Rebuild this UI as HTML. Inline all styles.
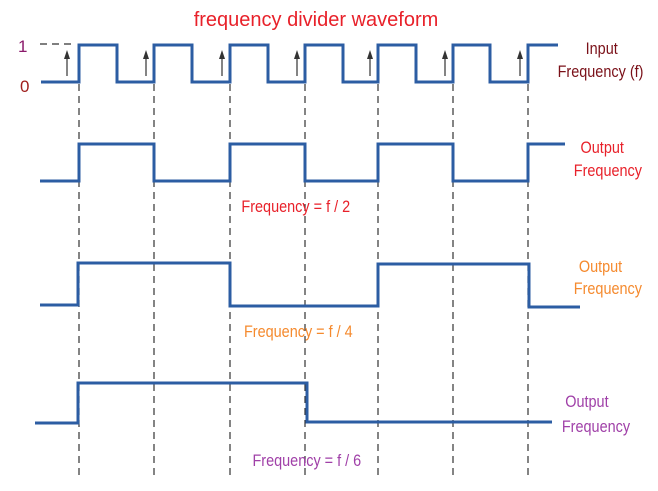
<!DOCTYPE html>
<html><head><style>body{margin:0;background:#fff}svg{display:block}text{font-family:"Liberation Sans",sans-serif}</style></head>
<body>
<svg width="658" height="491" viewBox="0 0 658 491" xmlns="http://www.w3.org/2000/svg">
<g stroke="#333" stroke-width="1.2" stroke-dasharray="7,5" fill="none">
<line x1="40" y1="44" x2="74" y2="44"/>
<line x1="79" y1="84" x2="79" y2="476"/>
<line x1="154" y1="84" x2="154" y2="476"/>
<line x1="230" y1="84" x2="230" y2="476"/>
<line x1="305" y1="84" x2="305" y2="476"/>
<line x1="378" y1="84" x2="378" y2="476"/>
<line x1="453" y1="84" x2="453" y2="476"/>
<line x1="528" y1="84" x2="528" y2="476"/>
</g>
<g stroke="#333" stroke-width="1.2">
<line x1="67" y1="76" x2="67" y2="56"/>
<line x1="146" y1="76" x2="146" y2="56"/>
<line x1="222" y1="76" x2="222" y2="56"/>
<line x1="297" y1="76" x2="297" y2="56"/>
<line x1="370" y1="76" x2="370" y2="56"/>
<line x1="445" y1="76" x2="445" y2="56"/>
<line x1="520" y1="76" x2="520" y2="56"/>
</g>
<g fill="#333">
<path d="M64,59 L67,50 L70,59 Z"/>
<path d="M143,59 L146,50 L149,59 Z"/>
<path d="M219,59 L222,50 L225,59 Z"/>
<path d="M294,59 L297,50 L300,59 Z"/>
<path d="M367,59 L370,50 L373,59 Z"/>
<path d="M442,59 L445,50 L448,59 Z"/>
<path d="M517,59 L520,50 L523,59 Z"/>
</g>
<g stroke="#2c5da3" stroke-width="3" fill="none">
<polyline points="41,82 79,82 79,45 117,45 117,82 154,82 154,45 192,45 192,82 230,82 230,45 268,45 268,82 305,82 305,45 343,45 343,82 378,82 378,45 416,45 416,82 453,82 453,45 490,45 490,82 528,82 528,45 558,45"/>
<polyline points="40,181 79,181 79,144 154,144 154,181 230,181 230,144 305,144 305,181 378,181 378,144 453,144 453,181 528,181 528,144 565,144"/>
<polyline points="40,305 78,305 78,263 230,263 230,306 378,306 378,264 529,264 529,307 580,307"/>
<polyline points="35,423 78,423 78,383 307,383 307,422 552,422"/>
</g>
<text x="316" y="26" font-size="20" fill="#e8212a" text-anchor="middle">frequency divider waveform</text>
<text x="18" y="52" font-size="17" fill="#8b1a6b">1</text>
<text x="20" y="92" font-size="17" fill="#a0201e">0</text>
<g font-size="17" transform="scale(0.85,1)">
<text x="689" y="54" fill="#7a1018">Input</text>
<text x="656" y="77" fill="#7a1018">Frequency (f)</text>
<text x="683" y="153" fill="#e8212a">Output</text>
<text x="675" y="176" fill="#e8212a">Frequency</text>
<text x="284" y="212" fill="#e8212a">Frequency = f / 2</text>
<text x="681" y="272" fill="#f58a2e">Output</text>
<text x="675" y="294" fill="#f58a2e">Frequency</text>
<text x="287" y="337" fill="#f58a2e">Frequency = f / 4</text>
<text x="665" y="407" fill="#a040a8">Output</text>
<text x="661" y="432" fill="#a040a8">Frequency</text>
<text x="297" y="466" fill="#a040a8">Frequency = f / 6</text>
</g>
</svg>
</body></html>
